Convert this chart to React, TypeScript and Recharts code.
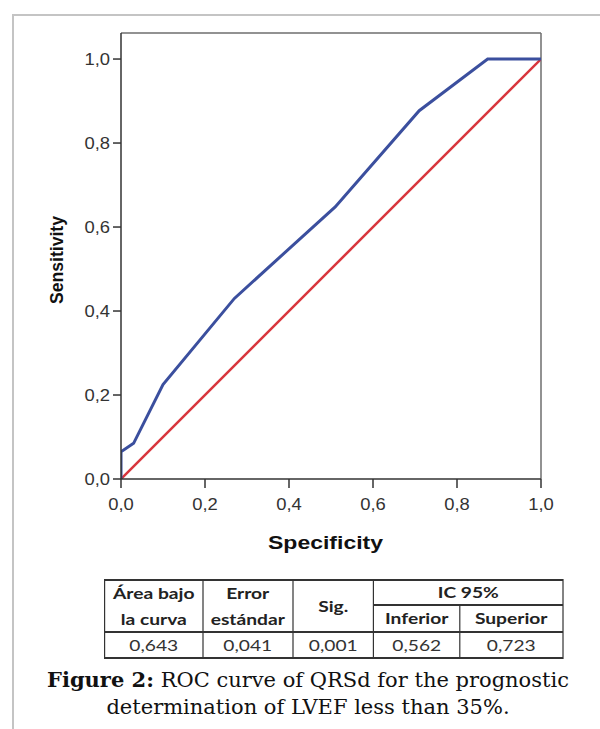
import React from 'react';
import { LineChart, Line, XAxis, YAxis, ReferenceLine } from 'recharts';

// ROC curve points (1 - specificity on x, sensitivity on y)
const rocSpecificity = [0, 0, 0.03, 0.1, 0.27, 0.51, 0.71, 0.873, 1];
const rocSensitivity = [0, 0.065, 0.085, 0.225, 0.43, 0.648, 0.877, 1, 1];
// reference diagonal
const refSpecificity = [0, 1];
const refSensitivity = [0, 1];

const axisTicks = [0, 0.2, 0.4, 0.6, 0.8, 1.0];
const yMax = 1.062;

const xAxisTitle = 'Specificity';
const yAxisTitle = 'Sensitivity';

const tableHeadRow1 = ['Área bajo\nla curva', 'Error\nestándar', 'Sig.', 'IC 95%'];
const tableHeadRow2 = ['Inferior', 'Superior'];
const tableValues = ['0,643', '0,041', '0,001', '0,562', '0,723'];

const captionBold = 'Figure 2:';
const captionLine1 = ' ROC curve of QRSd for the prognostic';
const captionLine2 = 'determination of LVEF less than 35%.';

const rocData = rocSpecificity.map((x, i) => ({ x, y: rocSensitivity[i] }));
const refData = refSpecificity.map((x, i) => ({ x, y: refSensitivity[i] }));

const fmt = (v: number) => v.toFixed(1).replace('.', ',');

const TICK_FONT = 'Liberation Sans, Arial, sans-serif';

const YTick = (props: any) => {
  const { x, y, payload } = props;
  return (
    <text
      x={0}
      y={0}
      transform={`translate(${x},${y}) scale(1.15,1)`}
      textAnchor="end"
      dy="0.355em"
      fontSize={16}
      fontFamily={TICK_FONT}
      fill="#333"
    >
      {fmt(payload.value)}
    </text>
  );
};

const XTick = (props: any) => {
  const { x, y, payload } = props;
  return (
    <text
      x={0}
      y={0}
      transform={`translate(${x},${y}) scale(1.15,1)`}
      textAnchor="middle"
      dy="0.71em"
      fontSize={16}
      fontFamily={TICK_FONT}
      fill="#333"
    >
      {fmt(payload.value)}
    </text>
  );
};

const renderYLabel = (props: any) => {
  const vb = props.viewBox || {};
  const cx = (vb.x ?? 61) + 2;
  const cy = (vb.y ?? 33) + (vb.height ?? 446) / 2 + 4;
  return (
    <text
      x={cx}
      y={cy}
      transform={`rotate(-90, ${cx}, ${cy})`}
      textAnchor="middle"
      fontSize={19}
      fontWeight="bold"
      fontFamily={TICK_FONT}
      fill="#111"
      textLength={88}
      lengthAdjust="spacingAndGlyphs"
    >
      {yAxisTitle}
    </text>
  );
};

const renderXLabel = (props: any) => {
  const vb = props.viewBox || {};
  const cx = (vb.x ?? 121) + (vb.width ?? 420) / 2 - 5.5;
  const cy = 549;
  return (
    <text
      x={cx}
      y={cy}
      textAnchor="middle"
      fontSize={19}
      fontWeight="bold"
      fontFamily={TICK_FONT}
      fill="#111"
      textLength={115}
      lengthAdjust="spacingAndGlyphs"
    >
      {xAxisTitle}
    </text>
  );
};

const SX = 1.2;
const colWidths = [98, 90, 81, 86, 103];
const rowHeights = [25, 27, 26];

const cellBase: React.CSSProperties = {
  background: '#fff',
  display: 'flex',
  alignItems: 'center',
  justifyContent: 'center',
  textAlign: 'center',
  whiteSpace: 'pre-line',
  lineHeight: '26px',
};

export default function App() {
  const gap = 1.5;
  const cols = colWidths.map((w) => `${(w - gap) / SX}px`).join(' ');
  const rows = rowHeights.map((h) => `${h - gap}px`).join(' ');
  return (
    <div style={{ position: 'relative', width: 600, height: 729, overflow: 'hidden', background: '#fff' }}>
      <style>{`html,body{margin:0;padding:0;overflow:hidden;}`}</style>
      {/* outer frame */}
      <div
        style={{
          position: 'absolute',
          left: 12,
          top: 14,
          width: 600,
          height: 729,
          borderLeft: '2.5px solid #c4c4c4',
          borderTop: '2.5px solid #c4c4c4',
        }}
      />
      <div style={{ position: 'absolute', left: 0, top: 0 }}>
        <LineChart width={600} height={570} margin={{ top: 33, right: 59, left: 61, bottom: 61 }}>
          <XAxis
            type="number"
            dataKey="x"
            domain={[0, 1]}
            ticks={axisTicks}
            tickSize={9}
            tickMargin={11}
            tick={<XTick />}
            axisLine={{ stroke: '#333', strokeWidth: 1.5 }}
            tickLine={{ stroke: '#333', strokeWidth: 1.5 }}
            height={30}
            allowDataOverflow
            label={renderXLabel}
          />
          <YAxis
            type="number"
            dataKey="y"
            domain={[0, yMax]}
            ticks={axisTicks}
            tickSize={8}
            tickMargin={3}
            tick={<YTick />}
            axisLine={{ stroke: '#333', strokeWidth: 1.5 }}
            tickLine={{ stroke: '#333', strokeWidth: 1.5 }}
            width={60}
            allowDataOverflow
            label={renderYLabel}
          />
          <ReferenceLine y={yMax} stroke="#6e6e6e" strokeWidth={1.5} />
          <ReferenceLine x={1} stroke="#6e6e6e" strokeWidth={1.5} />
          <Line
            data={refData}
            dataKey="y"
            type="linear"
            stroke="#d8353c"
            strokeWidth={2.5}
            dot={false}
            isAnimationActive={false}
          />
          <Line
            data={rocData}
            dataKey="y"
            type="linear"
            stroke="#3b4f9e"
            strokeWidth={3}
            dot={false}
            isAnimationActive={false}
          />
        </LineChart>
      </div>
      {/* statistics table */}
      <div
        style={{
          position: 'absolute',
          left: 104,
          top: 579,
          transform: `scaleX(${SX})`,
          transformOrigin: 'left top',
          display: 'grid',
          gridTemplateColumns: cols,
          gridTemplateRows: rows,
          columnGap: gap / SX,
          rowGap: gap,
          padding: `${gap}px ${gap / SX}px`,
          background: '#333',
          fontFamily: 'Lato, "Open Sans", sans-serif',
          fontSize: 16,
          color: '#222',
        }}
      >
        <div style={{ ...cellBase, gridColumn: '1', gridRow: '1 / span 2', fontWeight: 700 }}>{tableHeadRow1[0]}</div>
        <div style={{ ...cellBase, gridColumn: '2', gridRow: '1 / span 2', fontWeight: 700 }}>{tableHeadRow1[1]}</div>
        <div style={{ ...cellBase, gridColumn: '3', gridRow: '1 / span 2', fontWeight: 700 }}>{tableHeadRow1[2]}</div>
        <div style={{ ...cellBase, gridColumn: '4 / span 2', gridRow: '1', fontWeight: 700 }}>{tableHeadRow1[3]}</div>
        <div style={{ ...cellBase, gridColumn: '4', gridRow: '2', fontWeight: 700 }}>{tableHeadRow2[0]}</div>
        <div style={{ ...cellBase, gridColumn: '5', gridRow: '2', fontWeight: 700 }}>{tableHeadRow2[1]}</div>
        {tableValues.map((v, i) => (
          <div key={i} style={{ ...cellBase, gridColumn: `${i + 1}`, gridRow: '3', color: '#333' }}>
            {v}
          </div>
        ))}
      </div>
      {/* caption */}
      <div
        style={{
          position: 'absolute',
          left: 16,
          top: 666,
          width: 584,
          textAlign: 'center',
          fontFamily: '"DejaVu Serif", serif',
          fontSize: 21,
          lineHeight: '27px',
          color: '#111',
        }}
      >
        <div>
          <b>{captionBold}</b>
          {captionLine1}
        </div>
        <div>{captionLine2}</div>
      </div>
    </div>
  );
}
